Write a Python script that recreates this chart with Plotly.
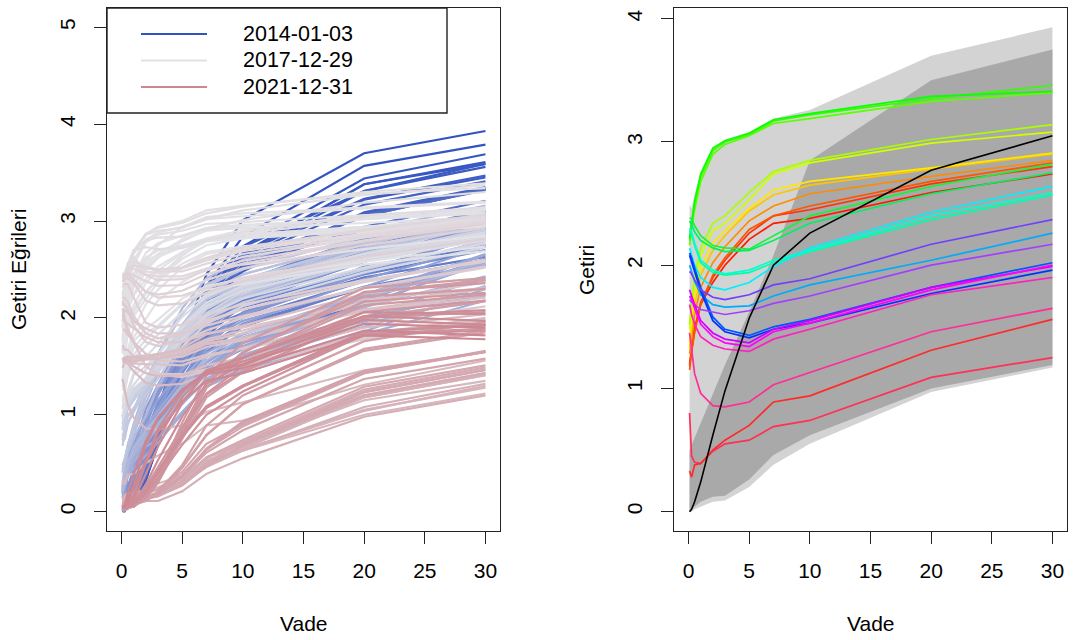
import plotly.graph_objects as go
import pandas as pd

# ---------------- data ----------------
maturities = [1/12, 0.25, 0.5, 1, 2, 3, 5, 7, 10, 20, 30]
x_ticks = [0, 5, 10, 15, 20, 25, 30]
y_ticks_left = [0, 1, 2, 3, 4, 5]
y_ticks_right = [0, 1, 2, 3, 4]
legend_labels = ["2014-01-03", "2017-12-29", "2021-12-31"]

y2014 = {
    "2014-01-03": [0.04, 0.07, 0.09, 0.13, 0.40, 0.81, 1.73, 2.45, 3.01, 3.70, 3.93],
    "2014-01-17": [0.03, 0.04, 0.07, 0.11, 0.37, 0.78, 1.63, 2.33, 2.84, 3.57, 3.79],
    "2014-01-31": [0.02, 0.04, 0.07, 0.10, 0.34, 0.69, 1.49, 2.17, 2.67, 3.38, 3.61],
    "2014-02-14": [0.04, 0.05, 0.08, 0.12, 0.32, 0.71, 1.54, 2.23, 2.74, 3.44, 3.69],
    "2014-02-28": [0.05, 0.05, 0.08, 0.12, 0.33, 0.69, 1.50, 2.17, 2.66, 3.38, 3.59],
    "2014-03-14": [0.05, 0.08, 0.09, 0.13, 0.36, 0.79, 1.59, 2.19, 2.65, 3.31, 3.59],
    "2014-03-31": [0.05, 0.05, 0.07, 0.13, 0.44, 0.90, 1.73, 2.31, 2.73, 3.31, 3.56],
    "2014-04-15": [0.03, 0.04, 0.06, 0.11, 0.37, 0.79, 1.59, 2.18, 2.63, 3.22, 3.45],
    "2014-04-30": [0.03, 0.03, 0.05, 0.11, 0.42, 0.87, 1.69, 2.26, 2.67, 3.23, 3.47],
    "2014-05-15": [0.02, 0.03, 0.05, 0.10, 0.37, 0.77, 1.53, 2.09, 2.50, 3.09, 3.35],
    "2014-05-30": [0.03, 0.04, 0.06, 0.10, 0.37, 0.79, 1.54, 2.10, 2.48, 3.08, 3.33],
    "2014-06-13": [0.03, 0.04, 0.07, 0.10, 0.43, 0.89, 1.69, 2.23, 2.60, 3.17, 3.41],
    "2014-06-30": [0.04, 0.04, 0.07, 0.11, 0.47, 0.90, 1.62, 2.13, 2.53, 3.08, 3.34],
    "2014-07-15": [0.02, 0.03, 0.06, 0.11, 0.50, 0.94, 1.69, 2.17, 2.55, 3.05, 3.33],
    "2014-07-31": [0.03, 0.03, 0.06, 0.13, 0.53, 1.02, 1.76, 2.24, 2.58, 3.06, 3.32],
    "2014-08-15": [0.02, 0.03, 0.05, 0.11, 0.44, 0.85, 1.55, 1.99, 2.34, 2.82, 3.10],
    "2014-08-29": [0.03, 0.03, 0.05, 0.10, 0.49, 0.93, 1.63, 2.05, 2.35, 2.81, 3.09],
    "2014-09-15": [0.01, 0.02, 0.05, 0.11, 0.57, 1.07, 1.81, 2.26, 2.60, 3.05, 3.33],
    "2014-09-30": [0.02, 0.02, 0.03, 0.12, 0.58, 1.07, 1.78, 2.22, 2.52, 2.94, 3.21],
    "2014-10-15": [0.01, 0.02, 0.04, 0.10, 0.36, 0.76, 1.33, 1.81, 2.15, 2.59, 2.92],
    "2014-10-31": [0.01, 0.01, 0.05, 0.11, 0.50, 0.95, 1.62, 2.04, 2.35, 2.78, 3.07],
    "2014-11-14": [0.02, 0.02, 0.06, 0.14, 0.52, 0.97, 1.63, 2.07, 2.32, 2.74, 3.04],
    "2014-11-28": [0.04, 0.02, 0.07, 0.13, 0.47, 0.89, 1.49, 1.90, 2.18, 2.58, 2.89],
    "2014-12-15": [0.03, 0.05, 0.12, 0.23, 0.60, 1.02, 1.62, 1.97, 2.13, 2.48, 2.74],
    "2014-12-31": [0.03, 0.04, 0.12, 0.25, 0.67, 1.10, 1.65, 1.97, 2.17, 2.47, 2.75],
}
y2015 = {
    "2015-01-15": [0.02, 0.03, 0.07, 0.17, 0.48, 0.80, 1.30, 1.60, 1.77, 2.14, 2.39],
    "2015-01-30": [0.01, 0.02, 0.07, 0.18, 0.45, 0.77, 1.18, 1.49, 1.68, 2.01, 2.25],
    "2015-02-13": [0.02, 0.02, 0.06, 0.21, 0.65, 1.03, 1.58, 1.89, 2.05, 2.42, 2.63],
    "2015-02-27": [0.02, 0.02, 0.07, 0.22, 0.62, 0.99, 1.50, 1.81, 2.00, 2.38, 2.60],
    "2015-03-13": [0.02, 0.03, 0.11, 0.27, 0.68, 1.09, 1.61, 1.92, 2.11, 2.45, 2.70],
    "2015-03-31": [0.05, 0.03, 0.14, 0.26, 0.56, 0.89, 1.37, 1.71, 1.94, 2.31, 2.54],
    "2015-04-15": [0.01, 0.02, 0.09, 0.21, 0.51, 0.82, 1.29, 1.65, 1.91, 2.32, 2.55],
    "2015-04-30": [0.01, 0.01, 0.06, 0.24, 0.58, 0.91, 1.43, 1.79, 2.05, 2.53, 2.75],
    "2015-05-15": [0.01, 0.02, 0.09, 0.23, 0.58, 0.91, 1.49, 1.91, 2.23, 2.76, 3.02],
    "2015-05-29": [0.00, 0.01, 0.08, 0.25, 0.61, 0.94, 1.49, 1.85, 2.12, 2.62, 2.88],
    "2015-06-15": [0.00, 0.02, 0.11, 0.28, 0.68, 1.07, 1.70, 2.13, 2.38, 2.83, 3.07],
    "2015-06-30": [0.02, 0.01, 0.11, 0.28, 0.64, 1.01, 1.63, 2.07, 2.35, 2.83, 3.11],
    "2015-07-15": [0.01, 0.02, 0.13, 0.31, 0.70, 1.08, 1.69, 2.08, 2.35, 2.80, 3.09],
    "2015-07-31": [0.04, 0.08, 0.15, 0.33, 0.67, 1.02, 1.54, 1.94, 2.20, 2.63, 2.92],
    "2015-08-14": [0.06, 0.10, 0.23, 0.40, 0.73, 1.05, 1.58, 1.95, 2.20, 2.59, 2.83],
    "2015-08-31": [0.02, 0.08, 0.26, 0.39, 0.74, 1.08, 1.54, 1.92, 2.21, 2.61, 2.95],
    "2015-09-15": [0.01, 0.06, 0.26, 0.43, 0.80, 1.13, 1.57, 1.96, 2.28, 2.68, 3.04],
    "2015-09-30": [0.00, 0.00, 0.08, 0.33, 0.64, 0.92, 1.37, 1.75, 2.06, 2.49, 2.87],
    "2015-10-15": [0.01, 0.01, 0.09, 0.23, 0.59, 0.86, 1.32, 1.72, 2.02, 2.46, 2.87],
    "2015-10-30": [0.01, 0.08, 0.23, 0.33, 0.75, 1.04, 1.52, 1.88, 2.16, 2.58, 2.93],
    "2015-11-13": [0.04, 0.11, 0.38, 0.50, 0.88, 1.20, 1.66, 2.03, 2.28, 2.69, 3.07],
    "2015-11-30": [0.14, 0.22, 0.42, 0.51, 0.93, 1.24, 1.65, 1.97, 2.21, 2.60, 2.98],
    "2015-12-15": [0.26, 0.28, 0.54, 0.70, 0.99, 1.29, 1.68, 2.03, 2.27, 2.65, 3.00],
    "2015-12-31": [0.14, 0.16, 0.49, 0.65, 1.06, 1.31, 1.76, 2.09, 2.27, 2.67, 3.01],
}
y2016 = {
    "2016-01-15": [0.19, 0.23, 0.40, 0.47, 0.85, 1.08, 1.46, 1.78, 2.04, 2.46, 2.80],
    "2016-01-29": [0.19, 0.33, 0.44, 0.47, 0.76, 1.01, 1.33, 1.68, 1.94, 2.40, 2.75],
    "2016-02-12": [0.26, 0.29, 0.42, 0.53, 0.71, 0.89, 1.21, 1.50, 1.75, 2.18, 2.60],
    "2016-02-29": [0.26, 0.33, 0.45, 0.62, 0.78, 0.91, 1.22, 1.50, 1.74, 2.11, 2.61],
    "2016-03-15": [0.26, 0.34, 0.49, 0.69, 0.96, 1.15, 1.47, 1.77, 1.97, 2.32, 2.74],
    "2016-03-31": [0.15, 0.21, 0.39, 0.59, 0.73, 0.87, 1.21, 1.54, 1.78, 2.20, 2.61],
    "2016-04-15": [0.18, 0.23, 0.38, 0.53, 0.73, 0.90, 1.23, 1.54, 1.76, 2.19, 2.58],
    "2016-04-29": [0.17, 0.22, 0.39, 0.56, 0.78, 0.97, 1.28, 1.60, 1.83, 2.24, 2.66],
    "2016-05-13": [0.24, 0.28, 0.43, 0.57, 0.75, 0.90, 1.20, 1.50, 1.71, 2.14, 2.57],
    "2016-05-31": [0.22, 0.34, 0.49, 0.68, 0.88, 1.04, 1.37, 1.64, 1.84, 2.22, 2.65],
    "2016-06-15": [0.26, 0.27, 0.45, 0.56, 0.73, 0.87, 1.19, 1.43, 1.62, 2.01, 2.42],
    "2016-06-30": [0.20, 0.26, 0.36, 0.45, 0.58, 0.71, 1.01, 1.29, 1.49, 1.86, 2.30],
    "2016-07-15": [0.24, 0.31, 0.41, 0.53, 0.69, 0.89, 1.11, 1.37, 1.60, 1.96, 2.33],
    "2016-07-29": [0.21, 0.28, 0.38, 0.51, 0.67, 0.75, 1.03, 1.29, 1.46, 1.83, 2.18],
    "2016-08-15": [0.23, 0.30, 0.45, 0.58, 0.74, 0.85, 1.12, 1.35, 1.55, 1.91, 2.25],
    "2016-08-31": [0.24, 0.33, 0.47, 0.61, 0.80, 0.89, 1.19, 1.42, 1.58, 1.94, 2.23],
    "2016-09-15": [0.20, 0.30, 0.48, 0.60, 0.76, 0.91, 1.20, 1.47, 1.69, 2.11, 2.43],
    "2016-09-30": [0.20, 0.29, 0.45, 0.59, 0.77, 0.88, 1.14, 1.42, 1.60, 1.99, 2.32],
    "2016-10-14": [0.21, 0.33, 0.51, 0.64, 0.83, 0.98, 1.27, 1.56, 1.80, 2.21, 2.55],
    "2016-10-31": [0.22, 0.34, 0.51, 0.66, 0.84, 0.99, 1.31, 1.60, 1.84, 2.25, 2.58],
    "2016-11-15": [0.26, 0.41, 0.59, 0.76, 0.99, 1.30, 1.70, 2.01, 2.23, 2.60, 2.94],
    "2016-11-30": [0.29, 0.48, 0.62, 0.80, 1.11, 1.43, 1.83, 2.14, 2.37, 2.71, 3.02],
    "2016-12-15": [0.41, 0.54, 0.67, 0.91, 1.28, 1.63, 2.10, 2.41, 2.60, 2.90, 3.16],
    "2016-12-30": [0.44, 0.51, 0.62, 0.85, 1.20, 1.47, 1.93, 2.25, 2.45, 2.79, 3.06],
}
y2017 = {
    "2017-01-13": [0.50, 0.52, 0.63, 0.81, 1.18, 1.49, 1.89, 2.20, 2.40, 2.73, 2.99],
    "2017-01-31": [0.48, 0.52, 0.64, 0.84, 1.22, 1.49, 1.90, 2.24, 2.45, 2.78, 3.05],
    "2017-02-15": [0.48, 0.53, 0.66, 0.82, 1.27, 1.61, 2.04, 2.35, 2.51, 2.84, 3.08],
    "2017-02-28": [0.40, 0.53, 0.69, 0.88, 1.22, 1.50, 1.89, 2.19, 2.36, 2.70, 2.97],
    "2017-03-15": [0.72, 0.75, 0.90, 1.05, 1.35, 1.62, 2.04, 2.33, 2.50, 2.84, 3.08],
    "2017-03-31": [0.74, 0.76, 0.91, 1.03, 1.27, 1.50, 1.93, 2.22, 2.40, 2.76, 3.02],
    "2017-04-13": [0.78, 0.83, 0.98, 1.07, 1.21, 1.37, 1.75, 2.03, 2.24, 2.64, 2.91],
    "2017-04-28": [0.68, 0.80, 0.99, 1.07, 1.28, 1.45, 1.81, 2.09, 2.29, 2.67, 2.96],
    "2017-05-15": [0.74, 0.89, 1.05, 1.15, 1.32, 1.50, 1.86, 2.15, 2.34, 2.70, 2.99],
    "2017-05-31": [0.86, 0.98, 1.08, 1.17, 1.28, 1.45, 1.75, 2.03, 2.21, 2.58, 2.87],
    "2017-06-15": [0.90, 1.03, 1.12, 1.19, 1.34, 1.48, 1.76, 1.99, 2.16, 2.50, 2.79],
    "2017-06-30": [0.84, 1.03, 1.14, 1.24, 1.38, 1.55, 1.89, 2.14, 2.31, 2.61, 2.84],
    "2017-07-14": [0.98, 1.04, 1.12, 1.21, 1.35, 1.52, 1.88, 2.14, 2.33, 2.66, 2.91],
    "2017-07-31": [0.99, 1.07, 1.13, 1.23, 1.36, 1.51, 1.84, 2.10, 2.30, 2.63, 2.89],
    "2017-08-15": [0.98, 1.02, 1.13, 1.23, 1.35, 1.48, 1.80, 2.05, 2.27, 2.60, 2.85],
    "2017-08-31": [0.96, 1.01, 1.08, 1.23, 1.33, 1.44, 1.70, 1.94, 2.12, 2.47, 2.73],
    "2017-09-15": [0.98, 1.05, 1.16, 1.27, 1.38, 1.49, 1.78, 2.02, 2.20, 2.52, 2.77],
    "2017-09-29": [0.96, 1.06, 1.20, 1.31, 1.47, 1.62, 1.92, 2.16, 2.33, 2.63, 2.86],
    "2017-10-13": [0.98, 1.08, 1.21, 1.41, 1.50, 1.63, 1.90, 2.12, 2.28, 2.58, 2.81],
    "2017-10-31": [0.99, 1.09, 1.25, 1.43, 1.60, 1.73, 2.01, 2.22, 2.38, 2.66, 2.88],
    "2017-11-15": [1.06, 1.24, 1.39, 1.58, 1.71, 1.83, 2.06, 2.24, 2.37, 2.61, 2.80],
    "2017-11-30": [1.14, 1.27, 1.44, 1.62, 1.78, 1.90, 2.14, 2.31, 2.42, 2.62, 2.83],
    "2017-12-15": [1.25, 1.31, 1.51, 1.69, 1.84, 1.92, 2.15, 2.29, 2.35, 2.55, 2.69],
    "2017-12-29": [1.28, 1.39, 1.53, 1.76, 1.89, 1.98, 2.20, 2.33, 2.40, 2.58, 2.74],
}
y2018 = {
    "2018-01-12": [1.29, 1.42, 1.60, 1.80, 1.99, 2.18, 2.37, 2.51, 2.55, 2.71, 2.85],
    "2018-01-31": [1.43, 1.46, 1.66, 1.89, 2.14, 2.29, 2.52, 2.66, 2.72, 2.86, 2.95],
    "2018-02-15": [1.34, 1.57, 1.84, 2.02, 2.20, 2.37, 2.64, 2.82, 2.91, 3.06, 3.14],
    "2018-02-28": [1.37, 1.65, 1.85, 2.06, 2.25, 2.42, 2.65, 2.81, 2.87, 3.02, 3.09],
    "2018-03-15": [1.64, 1.77, 1.93, 2.07, 2.27, 2.40, 2.61, 2.75, 2.82, 2.94, 3.05],
    "2018-03-29": [1.63, 1.73, 1.93, 2.09, 2.27, 2.39, 2.56, 2.68, 2.74, 2.85, 2.97],
    "2018-04-13": [1.66, 1.79, 1.97, 2.13, 2.36, 2.49, 2.67, 2.79, 2.82, 2.90, 2.99],
    "2018-04-30": [1.66, 1.87, 2.07, 2.24, 2.49, 2.62, 2.79, 2.91, 2.95, 3.03, 3.11],
    "2018-05-15": [1.66, 1.92, 2.11, 2.32, 2.58, 2.75, 2.94, 3.04, 3.08, 3.14, 3.20],
    "2018-05-31": [1.75, 1.93, 2.08, 2.23, 2.40, 2.53, 2.68, 2.81, 2.83, 2.92, 3.00],
    "2018-06-15": [1.80, 1.96, 2.14, 2.34, 2.55, 2.66, 2.81, 2.90, 2.93, 2.98, 3.04],
    "2018-06-29": [1.77, 1.93, 2.11, 2.33, 2.52, 2.63, 2.73, 2.81, 2.85, 2.91, 2.98],
    "2018-07-13": [1.89, 1.99, 2.17, 2.40, 2.59, 2.65, 2.74, 2.81, 2.83, 2.89, 2.94],
    "2018-07-31": [1.91, 2.03, 2.21, 2.44, 2.67, 2.77, 2.85, 2.93, 2.96, 3.02, 3.08],
    "2018-08-15": [1.91, 2.06, 2.23, 2.42, 2.62, 2.70, 2.75, 2.82, 2.86, 2.94, 3.01],
    "2018-08-31": [1.96, 2.11, 2.28, 2.46, 2.62, 2.70, 2.74, 2.80, 2.86, 2.94, 3.02],
    "2018-09-14": [1.96, 2.14, 2.32, 2.55, 2.78, 2.86, 2.90, 2.97, 2.99, 3.06, 3.12],
    "2018-09-28": [2.12, 2.19, 2.36, 2.59, 2.81, 2.88, 2.94, 3.02, 3.05, 3.13, 3.19],
    "2018-10-15": [2.13, 2.29, 2.45, 2.66, 2.86, 2.94, 3.00, 3.11, 3.16, 3.28, 3.34],
    "2018-10-31": [2.20, 2.34, 2.49, 2.69, 2.87, 2.93, 2.98, 3.08, 3.15, 3.30, 3.39],
    "2018-11-15": [2.24, 2.35, 2.49, 2.69, 2.86, 2.90, 2.93, 3.02, 3.11, 3.27, 3.37],
    "2018-11-30": [2.31, 2.37, 2.52, 2.70, 2.80, 2.83, 2.84, 2.92, 3.01, 3.19, 3.30],
    "2018-12-14": [2.38, 2.40, 2.55, 2.70, 2.73, 2.71, 2.72, 2.80, 2.89, 3.05, 3.14],
    "2018-12-31": [2.44, 2.45, 2.56, 2.63, 2.48, 2.46, 2.51, 2.59, 2.69, 2.87, 3.02],
}
y2019 = {
    "2019-01-15": [2.40, 2.41, 2.47, 2.58, 2.53, 2.50, 2.52, 2.60, 2.71, 2.90, 3.05],
    "2019-01-31": [2.42, 2.41, 2.46, 2.55, 2.45, 2.43, 2.43, 2.51, 2.63, 2.83, 2.99],
    "2019-02-15": [2.44, 2.46, 2.51, 2.55, 2.52, 2.48, 2.48, 2.56, 2.66, 2.85, 3.00],
    "2019-02-28": [2.45, 2.45, 2.50, 2.54, 2.52, 2.50, 2.52, 2.62, 2.73, 2.91, 3.07],
    "2019-03-15": [2.45, 2.46, 2.50, 2.51, 2.44, 2.39, 2.40, 2.49, 2.59, 2.80, 2.98],
    "2019-03-29": [2.43, 2.40, 2.44, 2.40, 2.27, 2.21, 2.23, 2.31, 2.41, 2.63, 2.81],
    "2019-04-15": [2.42, 2.44, 2.47, 2.44, 2.38, 2.33, 2.34, 2.45, 2.56, 2.79, 2.97],
    "2019-04-30": [2.43, 2.43, 2.46, 2.39, 2.27, 2.24, 2.28, 2.39, 2.51, 2.75, 2.93],
    "2019-05-15": [2.37, 2.40, 2.41, 2.36, 2.18, 2.13, 2.15, 2.26, 2.38, 2.63, 2.82],
    "2019-05-31": [2.35, 2.35, 2.35, 2.21, 1.95, 1.90, 1.93, 2.03, 2.14, 2.39, 2.58],
    "2019-06-14": [2.20, 2.21, 2.17, 2.02, 1.84, 1.79, 1.84, 1.97, 2.09, 2.37, 2.59],
    "2019-06-28": [2.18, 2.12, 2.09, 1.92, 1.75, 1.71, 1.76, 1.87, 2.00, 2.31, 2.52],
    "2019-07-15": [2.15, 2.14, 2.10, 1.98, 1.84, 1.79, 1.82, 1.95, 2.09, 2.38, 2.60],
    "2019-07-31": [2.01, 2.08, 2.06, 1.96, 1.89, 1.84, 1.84, 1.92, 2.02, 2.31, 2.53],
    "2019-08-15": [2.00, 1.98, 1.87, 1.75, 1.50, 1.42, 1.42, 1.47, 1.53, 1.80, 1.98],
    "2019-08-30": [2.10, 1.99, 1.89, 1.76, 1.50, 1.42, 1.39, 1.45, 1.50, 1.78, 1.96],
    "2019-09-13": [1.99, 1.96, 1.94, 1.89, 1.80, 1.75, 1.75, 1.84, 1.90, 2.16, 2.37],
    "2019-09-30": [1.88, 1.88, 1.83, 1.75, 1.63, 1.56, 1.55, 1.62, 1.68, 1.94, 2.12],
    "2019-10-15": [1.72, 1.67, 1.67, 1.60, 1.61, 1.58, 1.60, 1.70, 1.77, 2.08, 2.24],
    "2019-10-31": [1.59, 1.54, 1.57, 1.53, 1.52, 1.52, 1.51, 1.60, 1.69, 2.00, 2.18],
    "2019-11-15": [1.58, 1.58, 1.60, 1.56, 1.61, 1.62, 1.65, 1.76, 1.84, 2.15, 2.30],
    "2019-11-29": [1.57, 1.59, 1.60, 1.60, 1.61, 1.61, 1.62, 1.73, 1.78, 2.07, 2.21],
    "2019-12-13": [1.57, 1.56, 1.59, 1.53, 1.61, 1.63, 1.67, 1.78, 1.87, 2.19, 2.31],
    "2019-12-31": [1.48, 1.55, 1.60, 1.59, 1.58, 1.62, 1.69, 1.83, 1.92, 2.25, 2.39],
}
y2020 = {
    "2020-01-15": [1.54, 1.56, 1.56, 1.55, 1.57, 1.58, 1.63, 1.74, 1.79, 2.09, 2.25],
    "2020-01-31": [1.56, 1.55, 1.53, 1.45, 1.33, 1.30, 1.32, 1.42, 1.51, 1.83, 2.00],
    "2020-02-14": [1.57, 1.58, 1.56, 1.50, 1.43, 1.40, 1.41, 1.51, 1.59, 1.90, 2.04],
    "2020-02-28": [1.37, 1.27, 1.11, 0.97, 0.86, 0.85, 0.89, 1.03, 1.13, 1.46, 1.65],
    "2020-03-13": [0.33, 0.28, 0.38, 0.39, 0.50, 0.58, 0.70, 0.89, 0.94, 1.31, 1.56],
    "2020-03-31": [0.05, 0.11, 0.15, 0.17, 0.23, 0.29, 0.37, 0.55, 0.70, 1.15, 1.35],
    "2020-04-15": [0.12, 0.15, 0.18, 0.21, 0.21, 0.25, 0.35, 0.50, 0.63, 1.00, 1.22],
    "2020-04-30": [0.07, 0.09, 0.11, 0.16, 0.20, 0.25, 0.36, 0.53, 0.64, 1.05, 1.28],
    "2020-05-15": [0.10, 0.12, 0.14, 0.15, 0.15, 0.18, 0.31, 0.48, 0.64, 1.04, 1.30],
    "2020-05-29": [0.13, 0.14, 0.17, 0.17, 0.16, 0.19, 0.30, 0.49, 0.65, 1.18, 1.41],
    "2020-06-15": [0.14, 0.17, 0.19, 0.19, 0.20, 0.23, 0.34, 0.56, 0.72, 1.20, 1.43],
    "2020-06-30": [0.13, 0.16, 0.18, 0.16, 0.16, 0.18, 0.29, 0.49, 0.66, 1.18, 1.41],
    "2020-07-15": [0.11, 0.13, 0.15, 0.15, 0.16, 0.17, 0.29, 0.46, 0.63, 1.08, 1.32],
    "2020-07-31": [0.08, 0.09, 0.11, 0.12, 0.11, 0.11, 0.21, 0.39, 0.55, 0.98, 1.20],
    "2020-08-14": [0.09, 0.10, 0.13, 0.14, 0.15, 0.17, 0.30, 0.51, 0.71, 1.24, 1.47],
    "2020-08-31": [0.09, 0.11, 0.13, 0.12, 0.14, 0.16, 0.28, 0.50, 0.72, 1.26, 1.49],
    "2020-09-15": [0.08, 0.10, 0.12, 0.13, 0.14, 0.16, 0.27, 0.47, 0.68, 1.20, 1.43],
    "2020-09-30": [0.09, 0.10, 0.11, 0.12, 0.13, 0.16, 0.28, 0.47, 0.69, 1.23, 1.46],
    "2020-10-15": [0.09, 0.11, 0.12, 0.13, 0.15, 0.19, 0.32, 0.56, 0.74, 1.29, 1.51],
    "2020-10-30": [0.09, 0.09, 0.11, 0.13, 0.14, 0.19, 0.38, 0.64, 0.88, 1.43, 1.65],
    "2020-11-13": [0.09, 0.10, 0.11, 0.12, 0.18, 0.23, 0.41, 0.70, 0.90, 1.44, 1.65],
    "2020-11-30": [0.08, 0.08, 0.09, 0.11, 0.16, 0.19, 0.36, 0.61, 0.84, 1.37, 1.58],
    "2020-12-15": [0.07, 0.09, 0.09, 0.10, 0.13, 0.18, 0.37, 0.64, 0.92, 1.43, 1.66],
    "2020-12-31": [0.08, 0.09, 0.09, 0.10, 0.13, 0.17, 0.36, 0.65, 0.93, 1.45, 1.65],
}
y2021 = {
    "2021-01-15": [0.08, 0.09, 0.09, 0.10, 0.14, 0.20, 0.46, 0.79, 1.11, 1.66, 1.85],
    "2021-01-29": [0.05, 0.06, 0.07, 0.10, 0.11, 0.19, 0.45, 0.79, 1.11, 1.68, 1.87],
    "2021-02-12": [0.04, 0.04, 0.06, 0.07, 0.11, 0.21, 0.48, 0.89, 1.20, 1.76, 1.96],
    "2021-02-26": [0.04, 0.04, 0.05, 0.08, 0.14, 0.30, 0.75, 1.18, 1.44, 2.00, 2.17],
    "2021-03-15": [0.02, 0.03, 0.06, 0.08, 0.15, 0.34, 0.86, 1.32, 1.64, 2.26, 2.39],
    "2021-03-31": [0.01, 0.03, 0.05, 0.07, 0.16, 0.35, 0.92, 1.40, 1.74, 2.31, 2.41],
    "2021-04-15": [0.02, 0.02, 0.04, 0.06, 0.16, 0.33, 0.82, 1.28, 1.58, 2.13, 2.24],
    "2021-04-30": [0.01, 0.02, 0.04, 0.05, 0.16, 0.35, 0.86, 1.32, 1.65, 2.22, 2.30],
    "2021-05-14": [0.02, 0.02, 0.04, 0.05, 0.15, 0.33, 0.84, 1.33, 1.64, 2.27, 2.36],
    "2021-05-28": [0.01, 0.02, 0.04, 0.05, 0.14, 0.30, 0.81, 1.28, 1.59, 2.17, 2.26],
    "2021-06-15": [0.03, 0.04, 0.05, 0.07, 0.16, 0.32, 0.80, 1.22, 1.50, 2.06, 2.18],
    "2021-06-30": [0.05, 0.05, 0.06, 0.07, 0.25, 0.46, 0.87, 1.21, 1.45, 2.00, 2.06],
    "2021-07-15": [0.05, 0.05, 0.05, 0.07, 0.22, 0.40, 0.77, 1.08, 1.30, 1.86, 1.93],
    "2021-07-30": [0.05, 0.06, 0.05, 0.07, 0.19, 0.35, 0.69, 1.00, 1.24, 1.83, 1.89],
    "2021-08-13": [0.05, 0.05, 0.06, 0.07, 0.21, 0.41, 0.78, 1.07, 1.29, 1.85, 1.93],
    "2021-08-31": [0.04, 0.05, 0.06, 0.07, 0.20, 0.40, 0.77, 1.08, 1.30, 1.86, 1.92],
    "2021-09-15": [0.05, 0.04, 0.05, 0.07, 0.22, 0.42, 0.80, 1.09, 1.30, 1.82, 1.87],
    "2021-09-30": [0.07, 0.04, 0.05, 0.09, 0.28, 0.53, 0.98, 1.32, 1.52, 2.02, 2.08],
    "2021-10-15": [0.06, 0.05, 0.06, 0.12, 0.39, 0.67, 1.12, 1.45, 1.59, 2.06, 2.04],
    "2021-10-29": [0.05, 0.05, 0.07, 0.15, 0.50, 0.75, 1.18, 1.44, 1.55, 1.98, 1.93],
    "2021-11-15": [0.06, 0.05, 0.07, 0.17, 0.52, 0.85, 1.23, 1.46, 1.59, 2.02, 1.97],
    "2021-11-30": [0.05, 0.05, 0.10, 0.24, 0.52, 0.82, 1.14, 1.35, 1.43, 1.82, 1.78],
    "2021-12-15": [0.05, 0.04, 0.14, 0.26, 0.69, 0.96, 1.25, 1.42, 1.48, 1.87, 1.82],
    "2021-12-31": [0.06, 0.05, 0.19, 0.39, 0.73, 0.97, 1.26, 1.44, 1.52, 1.94, 1.90],
}

# right panel: range bands, central curve and selected curves
band_max = [2.49, 2.46, 2.58, 2.74, 2.95, 3.02, 3.08, 3.19, 3.26, 3.70, 3.93]
band_min = [0.00, 0.00, 0.02, 0.04, 0.08, 0.09, 0.20, 0.38, 0.55, 0.97, 1.17]
q_upper = [0.50, 0.54, 0.60, 0.72, 0.95, 1.19, 1.62, 2.08, 2.85, 3.50, 3.75]
q_lower = [0.00, 0.01, 0.04, 0.08, 0.12, 0.13, 0.26, 0.46, 0.62, 1.00, 1.19]
black_curve = [0.00, 0.02, 0.08, 0.24, 0.62, 0.98, 1.57, 2.00, 2.26, 2.77, 3.05]

right_curves = [
    [1.20, 1.33, 1.48, 1.68, 1.86, 2.00, 2.21, 2.34, 2.38, 2.59, 2.74],
    [1.18, 1.32, 1.48, 1.70, 1.90, 2.04, 2.26, 2.40, 2.45, 2.66, 2.80],
    [1.15, 1.30, 1.45, 1.68, 1.92, 2.06, 2.29, 2.40, 2.48, 2.68, 2.83],
    [1.28, 1.42, 1.60, 1.82, 2.02, 2.15, 2.36, 2.48, 2.58, 2.72, 2.85],
    [1.33, 1.50, 1.68, 1.92, 2.12, 2.24, 2.44, 2.57, 2.65, 2.78, 2.90],
    [1.38, 1.55, 1.74, 1.98, 2.18, 2.28, 2.46, 2.61, 2.68, 2.79, 2.91],
    [1.48, 1.65, 1.84, 2.08, 2.28, 2.34, 2.53, 2.74, 2.83, 2.99, 3.08],
    [1.52, 1.70, 1.90, 2.14, 2.34, 2.40, 2.59, 2.76, 2.85, 3.02, 3.14],
    [2.16, 2.30, 2.45, 2.68, 2.90, 2.98, 3.05, 3.15, 3.19, 3.33, 3.40],
    [2.20, 2.34, 2.50, 2.72, 2.93, 3.00, 3.06, 3.17, 3.22, 3.35, 3.46],
    [2.22, 2.36, 2.52, 2.74, 2.95, 3.01, 3.07, 3.18, 3.23, 3.37, 3.41],
    [2.38, 2.38, 2.32, 2.24, 2.16, 2.14, 2.13, 2.24, 2.40, 2.64, 2.82],
    [2.36, 2.33, 2.27, 2.20, 2.14, 2.11, 2.12, 2.20, 2.34, 2.58, 2.75],
    [2.28, 2.25, 2.16, 2.02, 1.94, 1.92, 1.94, 2.02, 2.11, 2.37, 2.57],
    [2.30, 2.27, 2.18, 2.04, 1.96, 1.93, 1.96, 2.04, 2.12, 2.40, 2.59],
    [2.14, 2.09, 2.00, 1.90, 1.82, 1.80, 1.86, 1.99, 2.14, 2.43, 2.64],
    [2.00, 1.95, 1.87, 1.76, 1.68, 1.66, 1.67, 1.75, 1.84, 2.04, 2.26],
    [2.10, 2.06, 1.98, 1.82, 1.58, 1.48, 1.43, 1.50, 1.56, 1.82, 2.02],
    [2.08, 2.03, 1.95, 1.79, 1.55, 1.46, 1.41, 1.48, 1.53, 1.77, 1.96],
    [1.95, 1.93, 1.88, 1.80, 1.74, 1.72, 1.76, 1.84, 1.89, 2.17, 2.37],
    [1.72, 1.70, 1.68, 1.64, 1.62, 1.60, 1.63, 1.69, 1.75, 2.00, 2.17],
    [1.80, 1.75, 1.68, 1.55, 1.45, 1.40, 1.37, 1.48, 1.55, 1.82, 1.99],
    [1.75, 1.72, 1.65, 1.52, 1.42, 1.37, 1.34, 1.46, 1.53, 1.80, 2.00],
    [1.68, 1.60, 1.52, 1.42, 1.35, 1.32, 1.30, 1.40, 1.48, 1.76, 1.90],
    [1.45, 1.30, 1.12, 0.96, 0.86, 0.85, 0.89, 1.03, 1.13, 1.46, 1.65],
    [0.80, 0.45, 0.40, 0.39, 0.49, 0.55, 0.58, 0.69, 0.74, 1.09, 1.25],
    [0.33, 0.28, 0.38, 0.39, 0.50, 0.58, 0.70, 0.89, 0.94, 1.31, 1.56],
]
right_colors = [
    "#FF1A00", "#FF3300", "#FF5500", "#FF8C00", "#FFC400", "#FFE800", "#D0FF00",
    "#A8FF00", "#5CFF00", "#33FF00", "#0AFF00", "#1AF040", "#00F060", "#00FFAA",
    "#00FFD0", "#00F0FF", "#00AAFF", "#0055FF", "#0033FF", "#7040FF", "#A040FF",
    "#D000FF", "#FF00FF", "#FF20C0", "#FF2D95", "#FF3055", "#FF2A2A",
]

# ---------------- styling helpers ----------------
FONT = "Liberation Sans, Arial, Helvetica, sans-serif"
W, H = 1086, 640
RAMP = [(0.0, (50, 82, 192)), (0.5, (226, 226, 230)), (0.6, (226, 224, 228)),
        (1.0, (203, 135, 146))]


def ramp(t):
    for (ta, ca), (tb, cb) in zip(RAMP[:-1], RAMP[1:]):
        if t <= tb:
            u = (t - ta) / (tb - ta)
            return "rgb(%d,%d,%d)" % tuple(round(ca[k] + (cb[k] - ca[k]) * u) for k in range(3))
    return "rgb(%d,%d,%d)" % RAMP[-1][1]


all_curves = {}
for d in (y2014, y2015, y2016, y2017, y2018, y2019, y2020, y2021):
    all_curves.update(d)
ordered = sorted(all_curves.items(), key=lambda kv: pd.Timestamp(kv[0]))

t0 = pd.Timestamp(legend_labels[0])
t1 = pd.Timestamp(legend_labels[-1])


def tpos(s):
    return (pd.Timestamp(s) - t0) / (t1 - t0)


fig = go.Figure()

# left panel: every curve, coloured by date (later dates on top)
for date, vals in ordered:
    fig.add_trace(go.Scatter(
        x=maturities, y=vals, mode="lines", xaxis="x", yaxis="y",
        line=dict(color=ramp(tpos(date)), width=2.2), showlegend=False,
        hoverinfo="skip"))

# right panel: bands
fig.add_trace(go.Scatter(
    x=maturities + maturities[::-1], y=band_max + band_min[::-1],
    fill="toself", fillcolor="#D3D3D3", line=dict(width=0), mode="lines",
    xaxis="x2", yaxis="y2", showlegend=False, hoverinfo="skip"))
fig.add_trace(go.Scatter(
    x=maturities + maturities[::-1], y=q_upper + q_lower[::-1],
    fill="toself", fillcolor="#A9A9A9", line=dict(width=0), mode="lines",
    xaxis="x2", yaxis="y2", showlegend=False, hoverinfo="skip"))
for vals, col in zip(right_curves, right_colors):
    fig.add_trace(go.Scatter(
        x=maturities, y=vals, mode="lines", xaxis="x2", yaxis="y2",
        line=dict(color=col, width=1.7), showlegend=False, hoverinfo="skip"))
fig.add_trace(go.Scatter(
    x=maturities, y=black_curve, mode="lines", xaxis="x2", yaxis="y2",
    line=dict(color="black", width=1.6), showlegend=False, hoverinfo="skip"))

# ---------------- axes ----------------
ydom = [1 - 531 / H, 1 - 8 / H]
axis_common = dict(
    showgrid=False, zeroline=False, showline=True, mirror=True,
    linecolor="#222", linewidth=1.4, ticks="outside", ticklen=12,
    tickwidth=1.4, tickcolor="#222",
    tickfont=dict(family=FONT, size=21, color="black"),
)
fig.update_layout(
    xaxis=dict(domain=[107 / W, 500 / W], range=[-1.2, 31.2], tickvals=x_ticks,
               anchor="y", ticklabelstandoff=9, **axis_common),
    yaxis=dict(domain=ydom, range=[-0.2, 5.2], tickvals=y_ticks_left,
               anchor="x", tickangle=-90, ticklabelstandoff=10, **axis_common),
    xaxis2=dict(domain=[674 / W, 1067 / W], range=[-1.2, 31.2], tickvals=x_ticks,
                anchor="y2", ticklabelstandoff=9, **axis_common),
    yaxis2=dict(domain=ydom, range=[-0.157, 4.087], tickvals=y_ticks_right,
                anchor="x2", tickangle=-90, ticklabelstandoff=10, **axis_common),
    width=W, height=H, margin=dict(l=0, r=0, t=0, b=0),
    paper_bgcolor="white", plot_bgcolor="white",
    font=dict(family=FONT, size=21, color="black"),
    showlegend=False,
)

# axis titles
ann = [
    dict(text="Vade", x=304 / W, y=1 - 623 / H),
    dict(text="Vade", x=870.5 / W, y=1 - 623 / H),
    dict(text="Getiri Eğrileri", x=18 / W, y=1 - 270 / H, textangle=-90),
    dict(text="Getiri", x=586 / W, y=1 - 270 / H, textangle=-90),
]
for a in ann:
    fig.add_annotation(xref="paper", yref="paper", showarrow=False,
                       xanchor="center", yanchor="middle",
                       font=dict(family=FONT, size=21, color="black"), **a)

# legend box (left panel)
fig.add_shape(type="rect", xref="paper", yref="paper",
              x0=107 / W, x1=447 / W, y0=1 - 113 / H, y1=1 - 8 / H,
              fillcolor="white", line=dict(color="#222", width=1.4), layer="above")
for i, lab in enumerate(legend_labels):
    yy = 1 - (34 + 26.5 * i) / H
    fig.add_shape(type="line", xref="paper", yref="paper",
                  x0=141 / W, x1=207 / W, y0=yy, y1=yy,
                  line=dict(color=ramp(tpos(lab)), width=2), layer="above")
    fig.add_annotation(xref="paper", yref="paper", x=241 / W, y=yy,
                       xanchor="left", yanchor="middle", showarrow=False,
                       text=lab, font=dict(family=FONT, size=21.5, color="black"))

fig.write_html("out.html")
